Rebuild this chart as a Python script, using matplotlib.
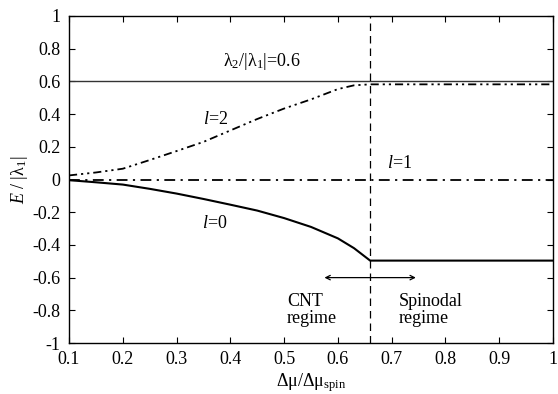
import matplotlib
matplotlib.use('Agg')
from matplotlib import pyplot as plt

plt.rcParams['font.family'] = ['Liberation Serif', 'DejaVu Serif']
plt.rcParams['mathtext.fontset'] = 'custom'
plt.rcParams['mathtext.rm'] = 'Liberation Serif'
plt.rcParams['mathtext.it'] = 'Liberation Serif:italic'

# l=0 branch
x0 = [0.1, 0.15, 0.2, 0.25, 0.3, 0.35, 0.4, 0.45, 0.5, 0.55, 0.6, 0.63, 0.66, 1.0]
y0 = [-0.004, -0.017, -0.031, -0.057, -0.086, -0.119, -0.154, -0.19, -0.236, -0.29, -0.36, -0.42, -0.496, -0.496]

# l=2 branch
x2 = [0.1, 0.15, 0.2, 0.25, 0.3, 0.35, 0.4, 0.45, 0.5, 0.55, 0.6, 0.63, 0.66, 1.0]
y2 = [0.025, 0.043, 0.066, 0.119, 0.174, 0.23, 0.30, 0.37, 0.434, 0.49, 0.553, 0.576, 0.582, 0.582]

# l=1 branch and the reference level
x1 = [0.1, 1.0]
y1 = [0.0, 0.0]
ratio = 0.6
x_spin = 0.66

xticks = [0.1, 0.2, 0.3, 0.4, 0.5, 0.6, 0.7, 0.8, 0.9, 1.0]
xlabels = ['0.1', '0.2', '0.3', '0.4', '0.5', '0.6', '0.7', '0.8', '0.9', '1']
yticks = [-1, -0.8, -0.6, -0.4, -0.2, 0, 0.2, 0.4, 0.6, 0.8, 1]
ylabels = ['-1', '-0.8', '-0.6', '-0.4', '-0.2', '0', '0.2', '0.4', '0.6', '0.8', '1']

fig = plt.figure(figsize=(5.58, 3.94), dpi=100)
ax = fig.add_axes([0.1237, 0.1294, 0.8673, 0.8300])

ax.axhline(ratio, color='#333333', lw=1.0)
ax.plot(x0, y0, color='black', lw=1.5, ls='-')
ax.plot(x1, y1, color='black', lw=1.3, ls=(0, (6, 3, 1.2, 3)))
ax.plot(x2, y2, color='black', lw=1.3, ls=(0, (4.5, 2.2, 1.2, 2.2, 1.2, 2.2)))
ax.axvline(x_spin, color='black', lw=0.9, ls=(0, (6, 4)))

ax.annotate('', xy=(0.575, -0.6), xytext=(0.745, -0.6),
            arrowprops=dict(arrowstyle='<->', color='black', lw=0.9,
                            mutation_scale=8, shrinkA=0, shrinkB=0))

fs = 13
ax.text(0.386, 0.72, r'$\mathrm{\lambda}_2/|\mathrm{\lambda}_1|$=0.6', fontsize=fs, va='center')
ax.text(0.349, 0.37, r'$\mathit{l}$=2', fontsize=fs, va='center')
ax.text(0.691, 0.10, r'$\mathit{l}$=1', fontsize=fs, va='center')
ax.text(0.347, -0.27, r'$\mathit{l}$=0', fontsize=fs, va='center')
ax.text(0.505, -0.80, 'CNT\nregime', fontsize=fs, va='center', linespacing=1.0)
ax.text(0.713, -0.80, 'Spinodal\nregime', fontsize=fs, va='center', linespacing=1.0)

ax.set_xlim(0.1, 1.0)
ax.set_ylim(-1, 1)
ax.set_xticks(xticks)
ax.set_xticklabels(xlabels)
ax.set_yticks(yticks)
ax.set_yticklabels(ylabels)
ax.tick_params(direction='in', top=True, right=True, length=4, width=0.8, labelsize=fs)
ax.tick_params(axis='x', pad=6)
ax.tick_params(axis='y', pad=6)
for s in ax.spines.values():
    s.set_linewidth(1.0)

ax.set_xlabel(r'$\mathrm{\Delta\mu/\Delta\mu}_{\mathrm{spin}}$', fontsize=fs, labelpad=2)
ax.set_ylabel(r'$\mathit{E}\ /\ |\mathrm{\lambda}_1|$', fontsize=fs, labelpad=2)

fig.savefig('out.png', dpi=100)
